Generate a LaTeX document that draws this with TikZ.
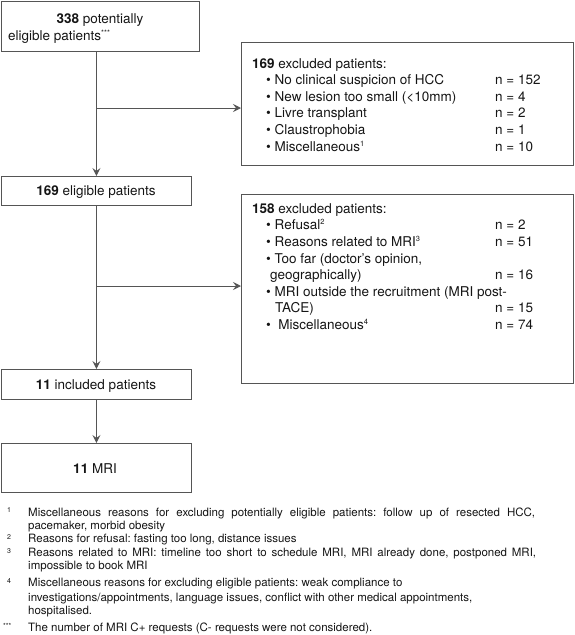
\documentclass[tikz,border=0pt]{standalone}
\usepackage{fontspec}
\setmainfont{TeX Gyre Heros}
\usetikzlibrary{arrows.meta}
\definecolor{linegray}{HTML}{555555}
\definecolor{txt}{HTML}{151515}
\tikzset{
  box/.style={draw=linegray, line width=0.9pt, inner sep=0pt, anchor=north west},
  flow/.style={draw=linegray, line width=1pt, -{Stealth[length=8pt,width=8pt,inset=3pt]}},
  big/.style={font=\fontsize{13.5}{16}\selectfont, text=txt, inner sep=0pt, anchor=base west},
  bigc/.style={big, anchor=base},
  note/.style={font=\fontsize{11.5}{13}\selectfont\frenchspacing, text=txt, inner sep=0pt, anchor=base west},
  fnmark/.style={font=\fontsize{7}{8}\selectfont, text=txt, inner sep=0pt, anchor=base west},
}
\newcommand{\sups}[1]{\raisebox{4.5pt}{\fontsize{7.5}{8}\selectfont #1}}
\begin{document}
\begin{tikzpicture}[x=1pt,y=-1pt]
\useasboundingbox (0,0) rectangle (575,635);
% boxes
\node[box, minimum width=198pt, minimum height=50pt] (b1) at (1,1) {};
\node[box, minimum width=332pt, minimum height=123pt] (e1) at (241,42) {};
\node[box, minimum width=190pt, minimum height=29pt] (b2) at (1,176) {};
\node[box, minimum width=332pt, minimum height=189pt] (e2) at (241,194) {};
\node[box, minimum width=190pt, minimum height=30pt] (b3) at (1,369) {};
\node[box, minimum width=190pt, minimum height=49pt] (b4) at (1,443) {};
% connectors
\coordinate (j1) at (96,108);
\coordinate (j2) at (96,286);
\draw[flow] (b1.south -| b2.north) -- (b2.north);
\draw[flow] (j1) -- (j1 -| e1.west);
\draw[flow] (b2.south) -- (b3.north);
\draw[flow] (j2) -- (j2 -| e2.west);
\draw[flow] (b3.south) -- (b4.north);
% box texts
\node[bigc] (t1a) at (100,23) {\textbf{338} potentially};
\node[big] (t1b) at (8,40) {eligible patients\sups{***}};
\node[bigc] (t2) at (96,195) {\textbf{169} eligible patients};
\node[bigc] (t3) at (96,389) {\textbf{11} included patients};
\node[bigc] (t4) at (95,473) {\textbf{11} MRI};
% excluded 1
\node[big] (e1t) at (252,68) {\textbf{169} excluded patients:};
\node[big] (e1a) at (266,84) {•\ No clinical suspicion of HCC};
\node[big] (e1b) at (266,101) {•\ New lesion too small (<10mm)};
\node[big] (e1c) at (266,117) {•\ Livre transplant};
\node[big] (e1d) at (266,134) {•\ Claustrophobia};
\node[big] (e1e) at (266,151) {•\ Miscellaneous\sups{1}};
\node[big] (e1an) at (495,84) {n = 152};
\node[big] (e1bn) at (495,101) {n = 4};
\node[big] (e1cn) at (495,117) {n = 2};
\node[big] (e1dn) at (495,134) {n = 1};
\node[big] (e1en) at (495,151) {n = 10};
% excluded 2
\node[big] (e2t) at (252,213) {\textbf{158} excluded patients:};
\node[big] (e2a) at (266,229) {•\ Refusal\sups{2}};
\node[big] (e2b) at (266,246) {•\ Reasons related to MRI\sups{3}};
\node[big] (e2c) at (266,263) {•\ Too far (doctor's opinion,};
\node[big] (e2c2) at (270,279) {geographically)};
\node[big] (e2d) at (266,296) {•\ MRI outside the recruitment (MRI post-};
\node[big] (e2d2) at (275,312) {TACE)};
\node[big] (e2e) at (266,329) {•\ \ Miscellaneous\sups{4}};
\node[big] (e2an) at (495,229) {n = 2};
\node[big] (e2bn) at (495,246) {n = 51};
\node[big] (e2cn) at (495,279) {n = 16};
\node[big] (e2dn) at (495,312) {n = 15};
\node[big] (e2en) at (495,329) {n = 74};
% footnotes
\node[fnmark] (m1) at (7,512) {1};
\node[note] (f1a) at (28,516) {\makebox[507pt][s]{Miscellaneous reasons for excluding potentially eligible patients: follow up of resected HCC,}};
\node[note] (f1b) at (28,529) {pacemaker, morbid obesity};
\node[fnmark] (m2) at (7,539) {2};
\node[note] (f2) at (28,542) {Reasons for refusal: fasting too long, distance issues};
\node[fnmark] (m3) at (7,553) {3};
\node[note] (f3a) at (28,556) {\makebox[508pt][s]{Reasons related to MRI: timeline too short to schedule MRI, MRI already done, postponed MRI,}};
\node[note] (f3b) at (28,569) {impossible to book MRI};
\node[fnmark] (m4) at (7,583) {4};
\node[note] (f4a) at (28,586) {Miscellaneous reasons for excluding eligible patients: weak compliance to};
\node[note] (f4b) at (28,601) {investigations/appointments, language issues, conflict with other medical appointments,};
\node[note] (f4c) at (28,614) {hospitalised.};
\node[fnmark] (m5) at (3,628) {***};
\node[note] (f5) at (28,631) {The number of MRI C+ requests (C- requests were not considered).};
\end{tikzpicture}
\end{document}
